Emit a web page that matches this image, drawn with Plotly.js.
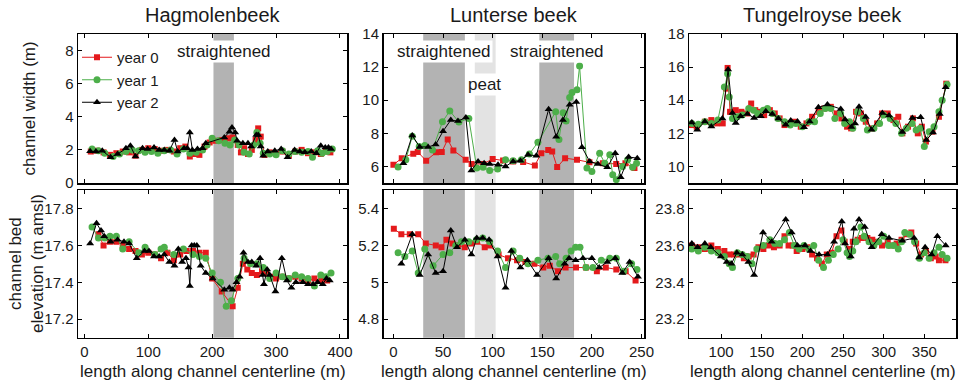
<!DOCTYPE html>
<html>
<head>
<meta charset="utf-8">
<script src="https://cdn.plot.ly/plotly-3.0.1.min.js"></script>
<style>html,body{margin:0;padding:0;background:#fff;}#chart{width:960px;height:383px;}</style>
</head>
<body>
<div id="chart"></div>
<script>
// ---------------- DATA ----------------
const rivers = ["Hagmolenbeek", "Lunterse beek", "Tungelroyse beek"];
const years = ["year 0", "year 1", "year 2"];

// Hagmolenbeek - channel width (m)
const hagWidthX0 = [10,20,30,40,50,60,70,80,90,100,110,120,130,140,150,158,165,172,180,188,196,205,215,225,232,240,245,250,256,262,268,272,276,282,290,300,310,320,330,340,350,360,370,378,385];
const hagWidthY0 = [1.9,1.95,1.85,1.7,1.8,1.9,1.85,1.65,2.0,2.1,2.05,1.95,2.0,1.9,2.1,2.2,1.6,1.75,1.7,2.2,2.45,2.55,2.6,2.7,2.75,2.3,1.85,2.1,1.75,2.0,2.6,3.3,2.8,1.7,1.85,1.75,1.9,1.65,1.9,2.0,1.8,1.85,1.75,1.9,1.85];
const hagWidthX1 = [12,22,32,45,55,65,75,85,95,105,115,125,135,145,155,165,175,185,192,200,210,220,228,235,242,250,258,265,270,275,280,290,300,310,320,330,340,350,357,365,372,380,388];
const hagWidthY1 = [2.05,1.95,1.8,1.6,1.75,1.9,2.0,1.95,1.85,1.9,1.8,1.95,2.0,1.75,2.05,1.8,1.85,2.0,2.3,2.7,2.55,2.4,2.3,2.6,2.3,1.85,1.75,2.3,3.05,2.4,1.8,1.75,1.7,1.95,1.75,1.9,1.85,1.9,1.55,1.95,1.8,1.9,2.05];
const hagWidthX2 = [9,18,28,41,52,65,72,80,91,99,109,117,125,133,141,146,156,161,165,169,177,185,190,219,227,231,236,239,248,256,261,269,272,276,280,287,298,308,318,329,337,345,355,363,370,377,382,386];
const hagWidthY2 = [1.92,1.9,1.95,1.55,1.75,2.1,2.25,1.6,2.1,2.05,2.15,2.0,2.0,1.95,2.6,1.9,2.1,2.1,3.05,2.0,2.05,2.1,2.4,2.75,3.1,3.35,3.05,2.55,2.4,2.4,2.2,2.9,2.9,2.2,1.65,1.9,1.95,2.05,1.55,2.0,1.9,1.85,1.9,1.8,2.25,2.15,2.15,2.05];

// Hagmolenbeek - channel bed elevation (m amsl)
const hagElevX0 = [22,30,40,50,60,70,80,90,100,110,120,130,140,150,160,170,180,190,200,215,232,240,248,255,262,270,278,285,292,300,310,320,330,340,350,360,370,380];
const hagElevY0 = [17.66,17.6,17.62,17.62,17.6,17.58,17.57,17.55,17.56,17.55,17.53,17.56,17.52,17.55,17.57,17.57,17.56,17.56,17.42,17.35,17.27,17.37,17.5,17.47,17.45,17.44,17.46,17.45,17.43,17.42,17.43,17.42,17.43,17.42,17.41,17.42,17.41,17.41];
const hagElevX1 = [12,22,32,40,50,60,70,85,95,110,120,125,140,155,170,180,190,200,213,222,230,240,250,260,270,280,290,300,310,320,330,340,350,360,370,378,386];
const hagElevY1 = [17.7,17.64,17.64,17.65,17.65,17.58,17.62,17.56,17.59,17.55,17.58,17.59,17.55,17.58,17.55,17.54,17.53,17.45,17.4,17.27,17.3,17.42,17.53,17.5,17.5,17.48,17.42,17.45,17.43,17.42,17.44,17.43,17.42,17.38,17.44,17.43,17.45];
const hagElevX2 = [9,19,26,31,41,52,62,70,82,94,101,109,117,125,133,141,147,153,159,163,165,168,172,176,182,190,201,219,227,232,238,243,249,256,262,269,275,279,281,286,290,299,309,317,324,331,342,350,358,365,373,379,384];
const hagElevY2 = [17.61,17.72,17.68,17.65,17.62,17.63,17.62,17.61,17.53,17.57,17.57,17.54,17.54,17.55,17.51,17.49,17.58,17.51,17.53,17.48,17.38,17.6,17.6,17.6,17.49,17.45,17.42,17.36,17.37,17.36,17.4,17.43,17.56,17.51,17.51,17.49,17.53,17.44,17.39,17.47,17.44,17.35,17.53,17.41,17.37,17.4,17.4,17.39,17.39,17.4,17.39,17.42,17.41];

// Lunterse beek - channel width (m)
const lunWidthX0 = [0,8.4,20,24.5,33,43,48.7,54.7,60.4,72.8,78.8,90.5,100,110.5,120.6,130.7,142.5,149,156,160,165,173,185,197.5,211,224.5,233.8,242.9];
const lunWidthY0 = [6.1,6.5,6.77,6.87,6.35,6.85,6.87,7.63,6.97,6.4,6.15,6.15,6.45,6.36,6.3,6.27,6.06,6.8,7.0,6.9,5.96,6.5,6.4,6.25,6.2,6.15,6.2,5.9];
const lunWidthX1 = [4.7,12.5,19,26,31.6,39.4,49.4,56.8,66,76,84,90.3,97,105,113,120.6,129,137,145.6,163.5,166.8,171,174,177.6,180,185,187.6,195,200,207.8,213,218,221,224.6,231,236,241,245];
const lunWidthY1 = [5.96,6.4,7.83,7.2,7.26,7.0,8.7,9.35,8.68,8.9,5.9,5.95,5.76,5.84,6.4,6.35,6.4,6.75,7.46,9.3,7.63,9.25,8.75,10.17,10.47,10.63,12.06,5.9,5.7,6.8,6.2,6.7,5.5,5.2,6.0,6.4,5.95,6.2];
const lunWidthX2 = [10,19,26.5,35,42.6,50,57.8,65,73,78.6,85.3,91.4,97,105.4,113,120.6,128,135.6,144,156.4,164,170.8,177.6,184.3,190,197.8,206,215.5,223.5,229,237,245.7];
const lunWidthY2 = [6.2,7.87,7.18,7.18,7.32,8.13,8.8,8.74,8.95,5.76,6.3,6.2,6.15,6.1,6.0,6.3,6.35,6.7,6.65,9.45,7.8,8.8,9.72,9.9,7.16,6.3,6.15,5.95,6.8,5.35,6.57,6.5];

// Lunterse beek - channel bed elevation (m amsl)
const lunElevX0 = [0.4,8,16.5,25,32.6,42.7,48.4,53.4,59.5,65,71.9,78.6,84.3,92,97,106,115.5,124.6,133,142,151,157.5,165.8,173.5,184,194,205,214,224.6,234,244];
const lunElevY0 = [5.29,5.26,5.26,5.26,5.21,5.2,5.19,5.23,5.21,5.2,5.19,5.21,5.22,5.19,5.2,5.15,5.13,5.12,5.11,5.1,5.08,5.09,5.06,5.08,5.08,5.08,5.06,5.08,5.07,5.06,5.01];
const lunElevX1 = [4.7,11.5,19,25,31.6,40,50,56.8,62.8,68.5,76,83.6,90,97,105,113,120.6,127.3,135.6,145.6,155.7,163.5,167.5,174,179,183.6,188,194,201,209.5,218,224.6,232,240,245.4];
const lunElevY1 = [5.16,5.14,5.17,5.05,5.18,5.09,5.15,5.16,5.2,5.22,5.22,5.23,5.24,5.22,5.17,5.08,5.17,5.13,5.1,5.12,5.13,5.14,5.1,5.13,5.17,5.19,5.19,5.08,5.08,5.12,5.13,5.13,5.06,5.1,5.07];
const lunElevX2 = [8,19,26.5,35,42.6,50,57.8,64,72,78.6,84,90,96.4,105,113,118.8,128,135,144.7,156.4,164,172.5,177,183.6,191,200,207.4,215.5,223.5,230.6,238,246.4];
const lunElevY2 = [5.1,5.26,5.04,5.15,5.05,5.06,5.28,5.19,5.23,5.15,5.24,5.24,5.23,5.14,4.97,5.17,5.08,5.12,5.04,5.13,5.02,5.1,5.13,5.12,5.13,5.13,5.08,5.11,5.13,5.05,5.11,5.03];

// Tungelroyse beek - channel width (m)
const tunWidthX0 = [64,70,80,88,95,102,106,108,111,118,125,132,137,142,148,153,160,166,172,178,184,190,198,205,212,220,227,235,242,248,255,260,266,272,278,285,292,298,305,312,318,323,330,336,342,347,352,360,368,377];
const tunWidthY0 = [12.5,12.4,12.7,12.8,12.6,12.6,14.7,15.95,13.3,13.4,13.3,13.2,13.8,13.4,13.3,13.1,13.4,13.2,12.9,12.5,12.6,12.7,12.4,12.6,13.0,13.3,13.5,13.6,13.2,12.9,12.4,12.3,13.3,13.2,12.7,12.3,12.6,13.2,13.2,12.8,13.0,12.0,12.4,12.9,12.0,12.4,11.5,12.1,13.0,15.0];
const tunWidthX1 = [64,72,80,88,96,104,108,110,114,120,126,134,140,145,152,157,163,170,178,185,192,200,208,215,222,228,235,240,247,252,258,262,268,275,280,288,295,300,308,315,322,328,335,340,345,350,356,362,368,372,378];
const tunWidthY1 = [12.6,12.55,12.7,12.6,12.8,14.8,15.6,14.2,12.9,13.0,13.1,13.5,13.4,13.2,13.4,13.5,13.2,12.9,12.7,12.5,12.6,12.4,12.7,12.7,13.2,13.5,13.5,12.9,13.2,12.6,12.7,12.3,13.3,12.9,12.2,12.3,12.6,13.1,12.9,12.6,12.0,12.3,12.6,12.2,12.3,11.2,12.1,12.4,13.3,14.0,14.95];
const tunWidthX2 = [64,70.6,80,88,101.6,108.6,114,118,124,132.4,140.6,148.8,155,163,170.5,179.5,185.7,194,202,209,219.7,230.8,247.2,252.5,260.3,264.8,269.7,278,285,298.4,306.6,323,335.3,345.5,352.5,360.7,369,376.3];
const tunWidthY2 = [12.66,12.22,12.72,12.42,12.89,15.86,13.23,12.62,13.03,13.17,12.93,13.03,13.33,13.17,12.9,12.52,12.77,12.72,12.36,12.72,13.57,13.74,13.47,12.83,12.38,12.6,13.6,12.99,12.22,13.23,13.07,12.08,12.93,12.97,11.6,12.05,13.17,14.79];

// Tungelroyse beek - channel bed elevation (m amsl)
const tunElevX0 = [64,72,80,88,96,104,110,116,122,128,134,140,146,152,158,165,172,178,183,188,193,200,206,212,218,224,230,236,242,248,252,258,262,268,273,280,286,292,298,305,310,316,322,328,334,340,346,352,358,364,368,376];
const tunElevY0 = [23.6,23.59,23.58,23.6,23.58,23.57,23.55,23.55,23.55,23.53,23.54,23.55,23.59,23.58,23.6,23.59,23.6,23.65,23.6,23.6,23.57,23.58,23.59,23.55,23.53,23.5,23.55,23.56,23.65,23.68,23.62,23.58,23.62,23.63,23.64,23.64,23.63,23.62,23.6,23.62,23.6,23.61,23.63,23.66,23.67,23.61,23.55,23.57,23.53,23.54,23.52,23.52];
const tunElevX1 = [64,72,80,88,96,104,110,114,120,126,132,138,144,152,160,166,172,178,184,190,196,202,208,214,220,226,232,238,244,250,255,258,262,266,272,276,282,288,294,300,306,312,318,322,326,332,338,344,350,356,362,368,372,378];
const tunElevY1 = [23.58,23.57,23.59,23.57,23.56,23.54,23.5,23.48,23.56,23.55,23.54,23.5,23.58,23.6,23.63,23.61,23.61,23.63,23.67,23.6,23.58,23.6,23.58,23.6,23.52,23.48,23.52,23.55,23.58,23.63,23.56,23.54,23.57,23.62,23.7,23.65,23.62,23.6,23.62,23.65,23.6,23.6,23.58,23.62,23.67,23.66,23.62,23.53,23.56,23.53,23.56,23.59,23.55,23.53];
const tunElevX2 = [64,71,80,87.3,99.6,107,112.7,119.3,126.2,133.6,140.6,151.6,162.3,179.5,186.8,194,203.3,210,220.5,230.8,239,248.5,252.5,259.5,263.6,269.7,276.7,285.3,297.6,306.6,323,337.4,343.6,351,359,366,376.3];
const tunElevY2 = [23.61,23.59,23.61,23.59,23.54,23.51,23.5,23.56,23.55,23.51,23.44,23.67,23.62,23.74,23.67,23.6,23.6,23.57,23.55,23.55,23.62,23.73,23.61,23.54,23.69,23.74,23.7,23.59,23.66,23.64,23.625,23.64,23.535,23.59,23.55,23.65,23.6];

// straightened / peat reaches (m along centerline)
const hagStraight = [[202, 234]];
const lunStraight = [[30, 72], [147, 182]];
const lunPeat = [[82, 103]];

// ---------------- STYLE ----------------
const W = 960, H = 383;
const yearStyle = [
  {color: '#e41a1c', symbol: 'square', size: 6},
  {color: '#4daf4a', symbol: 'circle', size: 7},
  {color: '#000000', symbol: 'triangle-up', size: 7}
];
const colPx = [[78, 347], [383.5, 644], [689, 956]];
const rowPx = [[34, 183], [190, 337.7]];
const dom = (a, b) => [a / W, b / W];
const ydom = (a, b) => [1 - b / H, 1 - a / H];

const panels = [
  {wx: [hagWidthX0, hagWidthX1, hagWidthX2], wy: [hagWidthY0, hagWidthY1, hagWidthY2],
   ex: [hagElevX0, hagElevX1, hagElevX2], ey: [hagElevY0, hagElevY1, hagElevY2],
   xr: [-10, 411], xt: [0, 100, 200, 300, 400], wr: [0, 9], wt: [0, 2, 4, 6, 8], er: [17.1, 17.9], et: [17.2, 17.4, 17.6, 17.8]},
  {wx: [lunWidthX0, lunWidthX1, lunWidthX2], wy: [lunWidthY0, lunWidthY1, lunWidthY2],
   ex: [lunElevX0, lunElevX1, lunElevX2], ey: [lunElevY0, lunElevY1, lunElevY2],
   xr: [-10, 252.5], xt: [0, 50, 100, 150, 200, 250], wr: [5, 14], wt: [6, 8, 10, 12, 14], er: [4.7, 5.5], et: [4.8, 5, 5.2, 5.4]},
  {wx: [tunWidthX0, tunWidthX1, tunWidthX2], wy: [tunWidthY0, tunWidthY1, tunWidthY2],
   ex: [tunElevX0, tunElevX1, tunElevX2], ey: [tunElevY0, tunElevY1, tunElevY2],
   xr: [60.5, 389], xt: [100, 150, 200, 250, 300, 350], wr: [9, 18], wt: [10, 12, 14, 16, 18], er: [23.1, 23.9], et: [23.2, 23.4, 23.6, 23.8]}
];

const traces = [];
const layout = {
  width: W, height: H,
  margin: {l: 0, r: 0, t: 0, b: 0},
  paper_bgcolor: '#fff', plot_bgcolor: '#fff',
  font: {family: 'Liberation Sans, Arial, sans-serif', size: 15, color: '#1a1a1a'},
  showlegend: true,
  legend: {x: 77 / W, y: 1 - 41 / H, xanchor: 'left', yanchor: 'top', bgcolor: 'rgba(0,0,0,0)',
           font: {size: 15}, tracegroupgap: 0, itemwidth: 30},
  shapes: [], annotations: []
};

function axisBase(extra) {
  return Object.assign({
    showline: true, linecolor: '#000', linewidth: 1.5, mirror: 'ticks',
    ticks: 'inside', ticklen: 4, tickwidth: 1, tickcolor: '#000',
    showgrid: false, zeroline: false, fixedrange: true,
    tickfont: {size: 15, color: '#1a1a1a'}
  }, extra);
}

panels.forEach((p, c) => {
  const top = c + 1, bot = c + 4;
  const xt = 'x' + (top === 1 ? '' : top), yt = 'y' + (top === 1 ? '' : top);
  const xb = 'x' + bot, yb = 'y' + bot;
  layout['xaxis' + (top === 1 ? '' : top)] = axisBase({domain: dom(...colPx[c]), range: p.xr, tickvals: p.xt, showticklabels: false, anchor: yt});
  layout['yaxis' + (top === 1 ? '' : top)] = axisBase({domain: ydom(...rowPx[0]), range: p.wr, tickvals: p.wt, anchor: xt});
  layout['xaxis' + bot] = axisBase({domain: dom(...colPx[c]), range: p.xr, tickvals: p.xt, anchor: yb});
  layout['yaxis' + bot] = axisBase({domain: ydom(...rowPx[1]), range: p.er, tickvals: p.et, anchor: xb});
  for (let k = 0; k < 3; k++) {
    const st = yearStyle[k];
    const common = {
      type: 'scatter', mode: 'lines+markers', name: years[k], legendgroup: years[k],
      line: {color: st.color, width: 1},
      marker: {color: st.color, symbol: st.symbol, size: st.size, line: {width: 0}},
      cliponaxis: true
    };
    traces.push(Object.assign({}, common, {x: p.wx[k], y: p.wy[k], xaxis: xt, yaxis: yt, showlegend: c === 0}));
    traces.push(Object.assign({}, common, {x: p.ex[k], y: p.ey[k], xaxis: xb, yaxis: yb, showlegend: false}));
  }
  // panel title
  layout.annotations.push({text: rivers[c], xref: 'paper', yref: 'paper',
    x: (colPx[c][0] + colPx[c][1]) / 2 / W, y: 1 - 15 / H, showarrow: false,
    xanchor: 'center', yanchor: 'middle', font: {size: 20}});
  // x axis title
  layout.annotations.push({text: 'length along channel centerline (m)', xref: 'paper', yref: 'paper',
    x: (colPx[c][0] + colPx[c][1]) / 2 / W, y: 1 - 371 / H, showarrow: false,
    xanchor: 'center', yanchor: 'middle', font: {size: 17}});
});

// shaded reaches
function addBand(range, xref, yref, color) {
  layout.shapes.push({type: 'rect', xref: xref, yref: yref + ' domain', x0: range[0], x1: range[1], y0: 0, y1: 1,
    fillcolor: color, line: {width: 0}, layer: 'below'});
}
const dark = '#b3b3b3', light = '#e3e3e3';
hagStraight.forEach(r => { addBand(r, 'x', 'y', dark); addBand(r, 'x4', 'y4', dark); });
lunStraight.forEach(r => { addBand(r, 'x2', 'y2', dark); addBand(r, 'x5', 'y5', dark); });
lunPeat.forEach(r => { addBand(r, 'x2', 'y2', light); addBand(r, 'x5', 'y5', light); });

// reach labels
function label(text, xref, x, ypx) {
  layout.annotations.push({text: text, xref: xref, yref: 'paper', x: x, y: 1 - ypx / H,
    showarrow: false, xanchor: 'center', yanchor: 'middle', bgcolor: '#fff', borderpad: 1,
    font: {size: 17}});
}
label('straightened', 'x', 218, 51.5);
label('straightened', 'x2', 51, 51.5);
label('straightened', 'x2', 164.5, 51.5);
label('peat', 'x2', 92, 84.5);

// y axis titles
layout.annotations.push({text: 'channel width (m)', xref: 'paper', yref: 'paper', x: 29 / W,
  y: 1 - 108.5 / H, textangle: -90, showarrow: false, xanchor: 'center', yanchor: 'middle', font: {size: 17}});
layout.annotations.push({text: 'channel bed<br>elevation (m amsl)', xref: 'paper', yref: 'paper', x: 26 / W,
  y: 1 - 264 / H, textangle: -90, showarrow: false, xanchor: 'center', yanchor: 'middle', font: {size: 17}});

Plotly.newPlot('chart', traces, layout, {displayModeBar: false, staticPlot: true});
</script>
</body>
</html>
